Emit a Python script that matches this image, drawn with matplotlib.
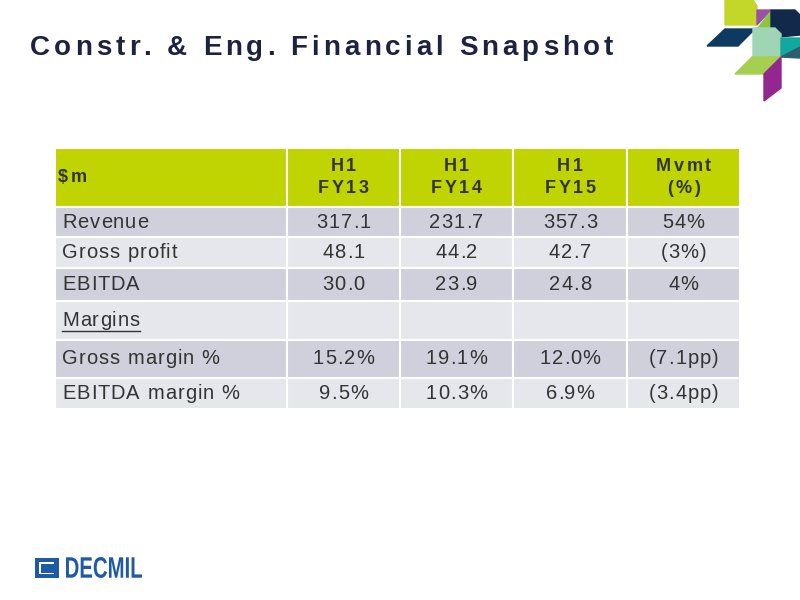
import matplotlib.pyplot as plt
from matplotlib.patches import Rectangle, Polygon, PathPatch
from matplotlib.textpath import TextToPath, TextPath
from matplotlib.font_manager import FontProperties
from matplotlib.transforms import Affine2D

title = "Constr. & Eng. Financial Snapshot"
headers = ["$m", "H1\nFY13", "H1\nFY14", "H1\nFY15", "Mvmt\n(%)"]
row_labels = ["Revenue", "Gross profit", "EBITDA", "Margins", "Gross margin %", "EBITDA margin %"]
fy13 = ["317.1", "48.1", "30.0", "", "15.2%", "9.5%"]
fy14 = ["231.7", "44.2", "23.9", "", "19.1%", "10.3%"]
fy15 = ["357.3", "42.7", "24.8", "", "12.0%", "6.9%"]
mvmt = ["54%", "(3%)", "4%", "", "(7.1pp)", "(3.4pp)"]

col_x = [55, 287, 400, 513, 627, 740]
row_y = [148, 207, 237, 268, 301, 340, 378, 409]

NAVY = "#1b2340"
GREY = "#333333"
t2p = TextToPath()

fig = plt.figure(figsize=(8, 6), dpi=100)
ax = fig.add_axes([0, 0, 1, 1])
ax.set_xlim(0, 800)
ax.set_ylim(600, 0)
ax.axis("off")


def char_w(c, prop):
    w, h, d = t2p.get_text_width_height_descent(c, prop, ismath=False)
    return w * 100 / 72


def spaced(x, y, s, size, gap, ha="left", bold=False, color=GREY, family="Liberation Sans"):
    prop = FontProperties(family=family, size=size, weight="bold" if bold else "normal")
    widths = [char_w(c, prop) for c in s]
    total = sum(widths) + gap * (len(s) - 1)
    if ha == "center":
        x = x - total / 2
    start = x
    for c, w in zip(s, widths):
        ax.text(x, y, c, fontproperties=prop, color=color, va="center", ha="left")
        x += w + gap
    return start, start + total


spaced(30, 48, title, 20, 4.0, bold=True, color=NAVY)

cols = [row_labels, fy13, fy14, fy15, mvmt]
for r in range(len(row_y) - 1):
    y0, y1 = row_y[r], row_y[r + 1]
    if r == 0:
        fc = "#bfd400"
    else:
        fc = "#cfd0db" if r % 2 == 1 else "#e6e7ec"
    for c in range(len(col_x) - 1):
        x0, x1 = col_x[c], col_x[c + 1]
        ax.add_patch(Rectangle((x0, y0), x1 - x0, y1 - y0, facecolor=fc,
                               edgecolor="white", linewidth=1.5))
        yc = (y0 + y1) / 2
        if r == 0:
            lines = headers[c].split("\n")
            if c == 0:
                spaced(x0 + 3, yc, lines[0], 13, 2.5, bold=True)
            else:
                spaced((x0 + x1) / 2, yc - 11, lines[0], 13, 2.5, ha="center", bold=True)
                spaced((x0 + x1) / 2, yc + 11, lines[1], 13, 2.5, ha="center", bold=True)
        else:
            txt = cols[c][r - 1]
            if not txt:
                continue
            if c == 0:
                a, b = spaced(x0 + 7, yc, txt, 14.5, 1.0)
                if txt == "Margins":
                    ax.plot([a, b], [yc + 10, yc + 10], color=GREY, lw=1)
            else:
                spaced((x0 + x1) / 2, yc, txt, 14.5, 1.0, ha="center")

# logo top right
ax.add_patch(Polygon([(725, 0), (753, 0), (757, 6), (757, 25), (725, 25)], color="#c3d72b"))
ax.add_patch(Polygon([(757, 10), (771, 10), (757, 25)], color="#9b4fa5"))
ax.add_patch(Polygon([(771, 10), (771, 28), (757, 28)], color="#8cc63f"))
ax.add_patch(Polygon([(771, 10), (795, 10), (800, 15), (800, 35), (780, 37), (771, 37)], color="#13294b"))
ax.add_patch(Polygon([(725, 29), (755, 29), (738, 46), (707, 46)], color="#0e3a62"))
ax.add_patch(Polygon([(753, 28), (775, 28), (781, 34), (781, 57), (753, 57)], color="#9fd4b4"))
ax.add_patch(Polygon([(781, 38), (800, 38), (800, 47), (781, 57)], color="#12a89d"))
ax.add_patch(Polygon([(781, 57), (800, 47), (800, 58)], color="#2c5f6f"))
ax.add_patch(Polygon([(752, 57), (781, 57), (764, 74), (735, 74)], color="#a6cf52"))
ax.add_patch(Polygon([(764, 74), (781, 57), (781, 88), (764, 101)], color="#93278f"))

# DECMIL logo bottom left
BLUE = "#1f5aa6"
ax.add_patch(Rectangle((35, 558), 24, 20, facecolor=BLUE, edgecolor="none"))
ax.add_patch(Rectangle((39, 562), 15, 12, facecolor="white", edgecolor="none"))
ax.add_patch(Rectangle((41, 564), 13, 9, facecolor=BLUE, edgecolor="none"))
tp = TextPath((0, 0), "DECMIL", size=20, prop=FontProperties(family="Liberation Sans", weight="bold"))
ext = tp.get_extents()
sx = 76 / ext.width
sy = 21 / ext.height
tr = Affine2D().translate(-ext.x0, -ext.y0).scale(sx, -sy).translate(66, 578)
ax.add_patch(PathPatch(tr.transform_path(tp), facecolor=BLUE, edgecolor="none"))

fig.savefig("out.png", dpi=100, facecolor="white")
